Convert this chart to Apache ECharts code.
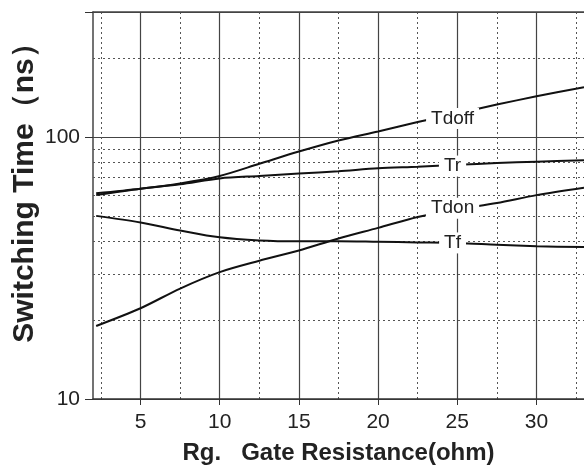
<!DOCTYPE html>
<html>
<head>
<meta charset="utf-8">
<script src="https://cdn.jsdelivr.net/npm/echarts@6/dist/echarts.min.js"></script>
<style>
html, body { margin: 0; padding: 0; background: #fff; }
#chart { width: 584px; height: 473px; }
</style>
</head>
<body>
<div id="chart"></div>
<script>
// gate resistance (ohm)
var rg = [2.2, 5, 7.5, 10, 12.5, 15, 17.5, 20, 22.5, 25, 27.5, 30, 33];
// switching times (ns)
var tdoff = [61, 63.5, 66.5, 71, 79, 88, 97, 105, 114, 123, 133, 143, 155];
var tr = [60, 63.5, 66, 69.5, 71, 72.5, 74, 76, 77, 78.3, 79.5, 80.5, 81.5];
var tdon = [19, 22.2, 26.4, 30.5, 33.7, 36.9, 41, 45, 49.5, 53, 56, 60, 64];
var tf = [50, 47.2, 44, 41.4, 40.3, 40, 40, 39.8, 39.6, 39.4, 38.8, 38.3, 38];
var seriesNames = ['Tdoff', 'Tr', 'Tdon', 'Tf'];

// tick values
var xMajor = [5, 10, 15, 20, 25, 30];
var xMinor = [2.5, 7.5, 12.5, 17.5, 22.5, 27.5, 32.5];
var yMinor = [20, 30, 40, 50, 60, 70, 80, 90, 200];

var chart = echarts.init(document.getElementById('chart'));

var labelX = 24.7;
// value of a curve at x, interpolated on log scale
function valueAt(ys, x) {
    for (var i = 0; i < rg.length - 1; i++) {
        if (x >= rg[i] && x <= rg[i + 1]) {
            var t = (x - rg[i]) / (rg[i + 1] - rg[i]);
            return Math.exp(Math.log(ys[i]) + t * (Math.log(ys[i + 1]) - Math.log(ys[i])));
        }
    }
    return ys[ys.length - 1];
}

var dotted = { color: '#555', width: 1, type: [2, 3] };
var font = 'Liberation Sans, Arial, sans-serif';
var labelShift = [4, 1, -2, 0];

function makeSeries(name, ys, idx) {
    var s = {
        name: name,
        type: 'line',
        smooth: 0.3,
        symbol: 'none',
        data: rg.map(function(x, i) { return [x, ys[i]]; }),
        lineStyle: { color: '#111', width: 2 },
        z: 3,
        markPoint: {
            symbol: 'circle',
            symbolSize: 0,
            silent: true,
            label: {
                show: true,
                position: 'inside',
                offset: [0, labelShift[idx]],
                formatter: name,
                fontFamily: font,
                fontSize: 19,
                color: '#222',
                backgroundColor: '#fff',
                padding: [1, 5, 1, 5]
            },
            data: [{ coord: [labelX, valueAt(ys, labelX)] }]
        }
    };
    if (idx === 0) {
        s.markLine = {
            silent: true,
            symbol: 'none',
            label: { show: false },
            lineStyle: dotted,
            z: 1,
            data: yMinor.map(function(v) { return { yAxis: v }; })
        };
    }
    return s;
}

var option = {
    animation: false,
    grid: { left: 93, right: 0, top: 12, bottom: 74, outerBoundsMode: 'none', containLabel: false },
    xAxis: [{
        type: 'value',
        min: 2,
        max: 33,
        name: 'Rg.   Gate Resistance(ohm)',
        nameLocation: 'middle',
        nameGap: 42,
        nameMoveOverlap: false,
        nameTextStyle: { fontFamily: font, fontSize: 24, fontWeight: 'bold', color: '#222' },
        axisLine: { show: true, lineStyle: { color: '#333', width: 1.5 } },
        axisTick: { show: true, length: 6, customValues: xMajor, lineStyle: { color: '#333' } },
        axisLabel: { customValues: xMajor, fontFamily: font, fontSize: 21, color: '#222', margin: 13 },
        splitLine: { show: true, lineStyle: { color: '#444', width: 1.2 } }
    }, {
        type: 'value',
        min: 2,
        max: 33,
        position: 'top',
        axisLine: { show: true, lineStyle: { color: '#444', width: 1.5 } },
        axisTick: { show: false, customValues: xMinor },
        axisLabel: { show: false },
        splitLine: { show: true, lineStyle: dotted }
    }],
    yAxis: {
        type: 'log',
        logBase: 10,
        min: 10,
        max: 300,
        name: 'Switching Time（ns）',
        nameLocation: 'middle',
        nameGap: 53,
        nameMoveOverlap: false,
        nameTextStyle: { fontFamily: font, fontSize: 30, fontWeight: 'bold', color: '#222', padding: [0, 0, 0, 40] },
        axisLine: { show: true, lineStyle: { color: '#444', width: 1.5 } },
        axisTick: { show: true, length: 8, lineStyle: { color: '#333' } },
        axisLabel: {
            fontFamily: font,
            fontSize: 21,
            color: '#222',
            margin: 13,
            formatter: function(v) {
                var r = Math.round(v);
                return (r === 10 || r === 100) ? String(r) : '';
            }
        },
        splitLine: { show: true, lineStyle: { color: '#444', width: 1.2 } }
    },
    series: [tdoff, tr, tdon, tf].map(function(ys, i) {
        return makeSeries(seriesNames[i], ys, i);
    })
};

chart.setOption(option);
</script>
</body>
</html>
